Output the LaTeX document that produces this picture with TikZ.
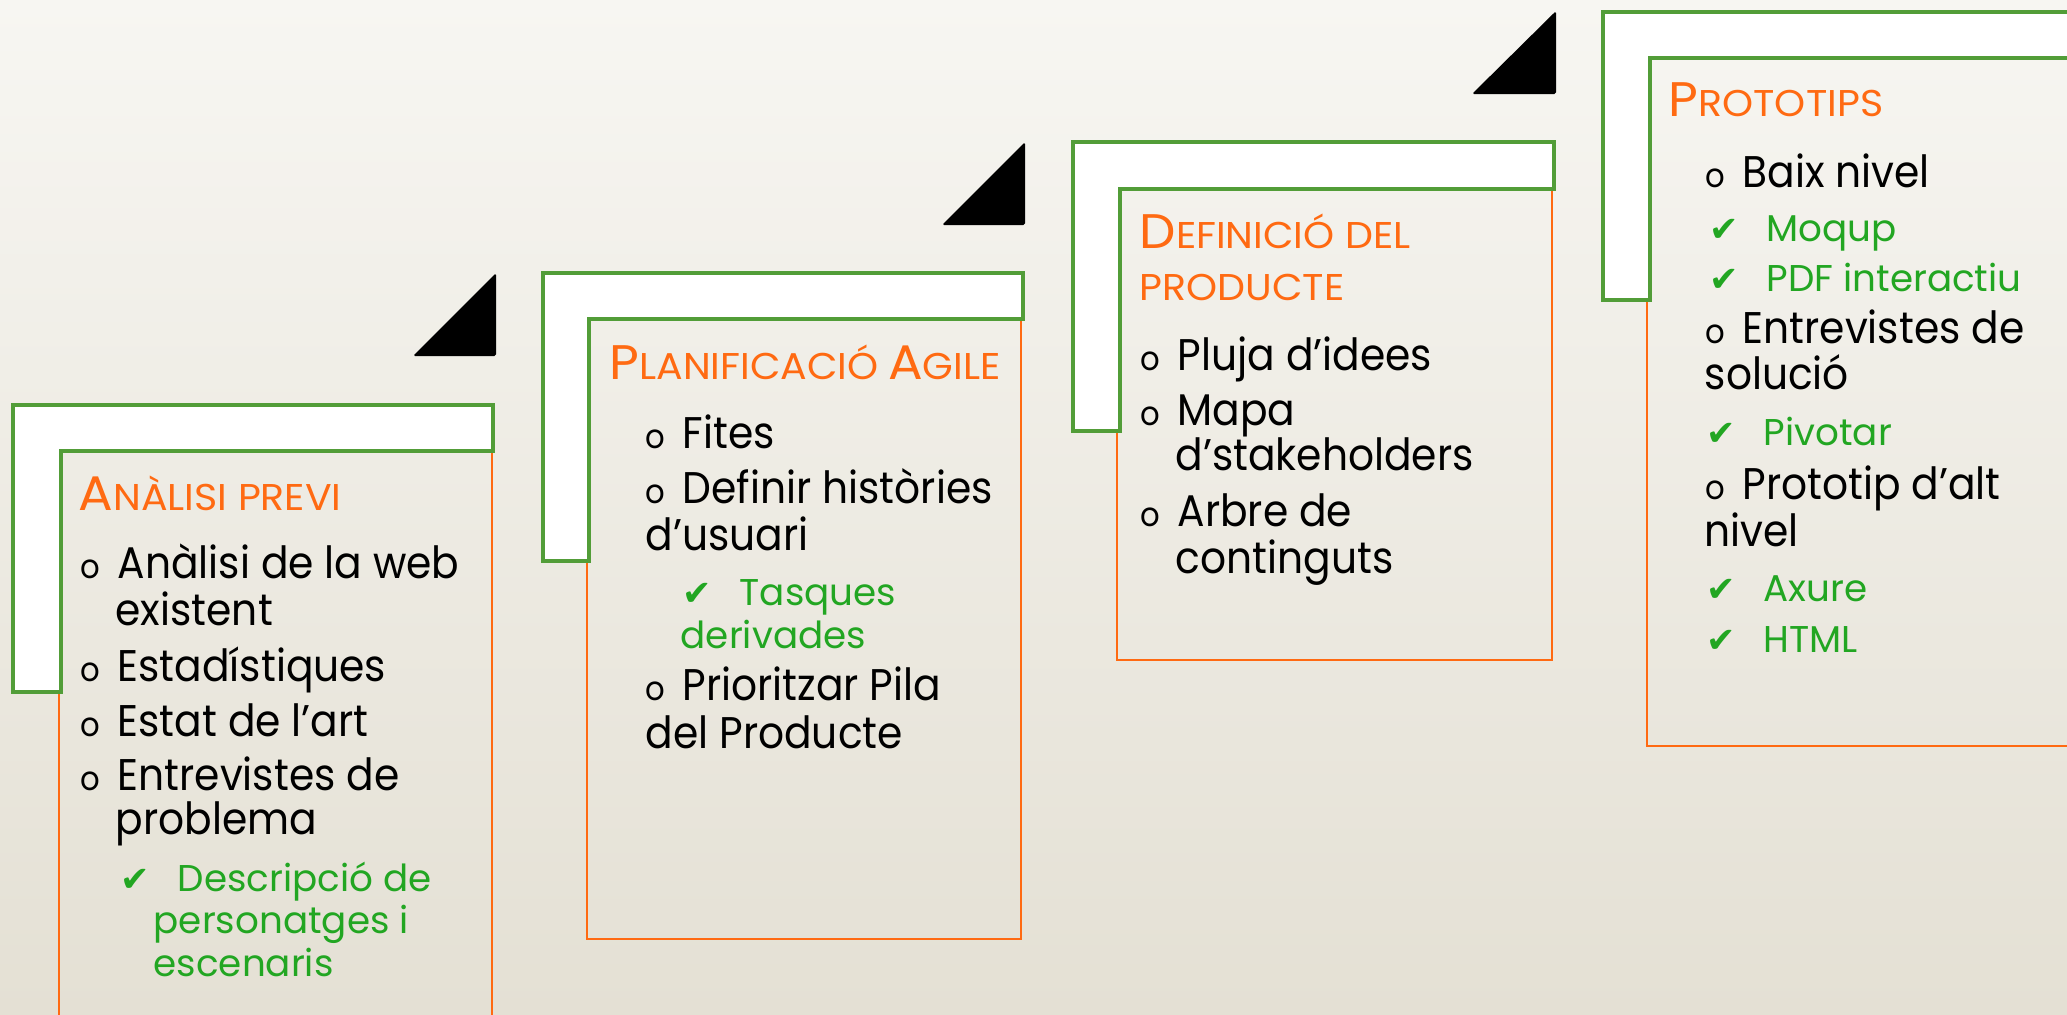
\documentclass[tikz,border=0pt]{standalone}
\usepackage{fontspec}
\setmainfont{Poppins}
\newfontfamily\bodyfont[FakeStretch=0.92]{Poppins}
\newfontfamily\titlefont[FakeStretch=1.06]{Poppins}
\newfontfamily\chkfont{DejaVu Sans}
\usepackage{xcolor}
\definecolor{stepgreen}{HTML}{529D38}
\definecolor{steporange}{HTML}{FF6A12}
\definecolor{subgreen}{HTML}{22A622}
\definecolor{bgtop}{HTML}{F7F6F2}
\definecolor{bgbottom}{HTML}{E4E0D4}

% fake small caps: large first letter, smaller capitals after
\newcommand{\fsc}[2]{{\titlefont\fontsize{13.8}{15}\selectfont #1}{\titlefont\fontsize{10.6}{12}\selectfont #2}}
\newcommand{\bul}{\makebox[0.37cm][l]{\fontsize{9.5}{9}\selectfont o}}
\newcommand{\chk}{\makebox[0.57cm][l]{\chkfont\fontsize{10}{10}\selectfont ✔}}

\tikzset{
  lshape/.style = {draw=stepgreen, line width=0.9pt, fill=white},
  obox/.style = {draw=steporange, line width=0.6pt},
  stair/.style = {fill=black, rounded corners=0.5pt},
  ttl/.style = {anchor=base west, inner sep=0, text=steporange},
  itm/.style = {anchor=base west, inner sep=0, font=\bodyfont\fontsize{12.6}{14}\selectfont},
  sub/.style = {anchor=base west, inner sep=0, text=subgreen, font=\fontsize{10.6}{12}\selectfont},
}

\begin{document}
\begin{tikzpicture}[x=0.01cm, y=-0.01cm]

\clip (0,0) rectangle (2067,1014);
\shade[top color=bgtop, bottom color=bgbottom] (0,0) rectangle (2067,1014);

% step 1
\draw[obox] (59,451) rectangle (492,1040);
\draw[lshape] (13,405) -- (493,405) -- (493,451) -- (61,451) -- (61,692) -- (13,692) -- cycle;
\fill[stair] (413,356) -- (496,273) -- (496,356) -- cycle;

% step 2
\draw[obox] (587,319) rectangle (1021,939);
\draw[lshape] (543,273) -- (1023,273) -- (1023,319) -- (589,319) -- (589,561) -- (543,561) -- cycle;
\fill[stair] (942,225) -- (1025,142) -- (1025,225) -- cycle;

% step 3
\draw[obox] (1117,189) rectangle (1552,660);
\draw[lshape] (1073,142) -- (1554,142) -- (1554,189) -- (1120,189) -- (1120,431) -- (1073,431) -- cycle;
\fill[stair] (1472,94) -- (1556,11) -- (1556,94) -- cycle;

% step 4
\draw[obox] (1647,58) rectangle (2100,746);
\draw[lshape] (1603,12) -- (2100,12) -- (2100,58) -- (1650,58) -- (1650,300) -- (1603,300) -- cycle;

% texts step 1
\node[ttl] (analisi) at (78,510) {\fsc{A}{NÀLISI PREVI}};
\node[itm] (web) at (80,578) {\bul Anàlisi de la web};
\node[itm] (webb) at (115,625) {existent};
\node[itm] (estad) at (80,681) {\bul Estadístiques};
\node[itm] (estat) at (80,736) {\bul Estat de l’art};
\node[itm] (entrev) at (80,790) {\bul Entrevistes de};
\node[itm] (entrevb) at (115,834) {problema};
\node[sub] (descr) at (120,891) {\chk Descripció de};
\node[sub] (descrb) at (153,933) {personatges i};
\node[sub] (descrc) at (153,976) {escenaris};

% texts step 2
\node[ttl] (planif) at (609,379) {\fsc{P}{LANIFICACIÓ} \fsc{A}{GILE}};
\node[itm] (fites) at (645,448) {\bul Fites};
\node[itm] (hist) at (645,503) {\bul Definir històries};
\node[itm] (histb) at (645,550) {d’usuari};
\node[sub] (tasq) at (682,605) {\chk Tasques};
\node[sub] (tasqb) at (680,648) {derivades};
\node[itm] (pila) at (645,700) {\bul Prioritzar Pila};
\node[itm] (pilab) at (645,748) {del Producte};

% texts step 3
\node[ttl] (defin) at (1139,248) {\fsc{D}{EFINICIÓ DEL}};
\node[ttl] (definb) at (1139,300) {\fsc{}{PRODUCTE}};
\node[itm] (pluja) at (1140,370) {\bul Pluja d’idees};
\node[itm] (mapa) at (1140,425) {\bul Mapa};
\node[itm] (mapab) at (1175,470) {d’stakeholders};
\node[itm] (arbre) at (1140,526) {\bul Arbre de};
\node[itm] (arbreb) at (1175,573) {continguts};

% texts step 4
\node[ttl] (proto) at (1668,116) {\fsc{P}{ROTOTIPS}};
\node[itm] (baix) at (1705,187) {\bul Baix nivel};
\node[sub] (moqup) at (1709,241) {\chk Moqup};
\node[sub] (pdf) at (1709,291) {\chk PDF interactiu};
\node[itm] (sol) at (1705,343) {\bul Entrevistes de};
\node[itm] (solb) at (1704,389) {solució};
\node[sub] (pivot) at (1706,445) {\chk Pivotar};
\node[itm] (alt) at (1705,499) {\bul Prototip d’alt};
\node[itm] (altb) at (1704,546) {nivel};
\node[sub] (axure) at (1706,601) {\chk Axure};
\node[sub] (html) at (1706,652) {\chk HTML};

\end{tikzpicture}
\end{document}
